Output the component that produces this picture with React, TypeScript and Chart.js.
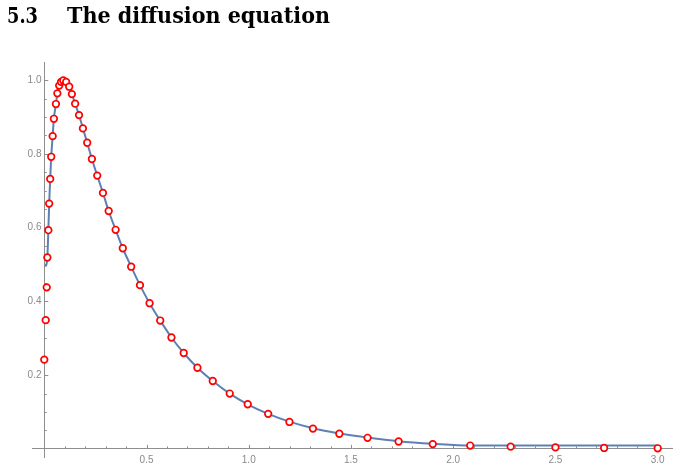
import React, { useEffect, useRef } from "react";
import { Chart, registerables } from "chart.js";

Chart.register(...registerables);

// Numerical solution samples (red circles)
const pointX = [
  0.0, 0.007, 0.012, 0.015, 0.02, 0.024, 0.029, 0.034, 0.041, 0.047,
  0.057, 0.064, 0.073, 0.082, 0.093, 0.107, 0.122, 0.135, 0.151, 0.17,
  0.189, 0.21, 0.233, 0.259, 0.287, 0.315, 0.349, 0.384, 0.425, 0.468,
  0.515, 0.567, 0.622, 0.682, 0.749, 0.824, 0.907, 0.995, 1.095, 1.199,
  1.314, 1.443, 1.581, 1.733, 1.9, 2.083, 2.281, 2.5, 2.738, 3.0,
];
const pointY = [
  0.242, 0.349, 0.438, 0.519, 0.593, 0.665, 0.732, 0.792, 0.848, 0.895,
  0.935, 0.964, 0.985, 0.995, 0.999, 0.995, 0.982, 0.962, 0.936, 0.905,
  0.869, 0.83, 0.786, 0.741, 0.694, 0.645, 0.594, 0.544, 0.494, 0.444,
  0.395, 0.348, 0.302, 0.26, 0.22, 0.184, 0.15, 0.121, 0.095, 0.073,
  0.055, 0.041, 0.03, 0.02, 0.013, 0.009, 0.006, 0.004, 0.0025, 0.0016,
];

// Continuous solution (blue line)
const lineX = [
  0.007, 0.015, 0.02, 0.024, 0.029, 0.034, 0.041, 0.047, 0.057, 0.064,
  0.073, 0.082, 0.093, 0.107, 0.122, 0.135, 0.151, 0.17, 0.189, 0.21,
  0.233, 0.259, 0.287, 0.315, 0.349, 0.384, 0.425, 0.468, 0.515, 0.567,
  0.622, 0.682, 0.749, 0.824, 0.907, 0.995, 1.095, 1.199, 1.314, 1.443,
  1.581, 1.733, 1.9, 2.083, 2.281, 2.5, 2.738, 3.0,
];
const lineY = [
  0.494, 0.519, 0.593, 0.665, 0.732, 0.792, 0.848, 0.895, 0.935, 0.964,
  0.985, 0.995, 0.999, 0.995, 0.982, 0.962, 0.936, 0.905, 0.869, 0.83,
  0.786, 0.741, 0.694, 0.645, 0.594, 0.544, 0.494, 0.444, 0.395, 0.348,
  0.302, 0.26, 0.22, 0.184, 0.15, 0.121, 0.095, 0.074, 0.056, 0.042,
  0.031, 0.021, 0.014, 0.009, 0.009, 0.009, 0.009, 0.009,
];

const xMajorTicks = [0.5, 1.0, 1.5, 2.0, 2.5, 3.0];
const yMajorTicks = [0.2, 0.4, 0.6, 0.8, 1.0];
const xMinorTicks = [
  0.1, 0.2, 0.3, 0.4, 0.6, 0.7, 0.8, 0.9, 1.1, 1.2, 1.3, 1.4, 1.6, 1.7,
  1.8, 1.9, 2.1, 2.2, 2.3, 2.4, 2.6, 2.7, 2.8, 2.9,
];
const yMinorTicks = [
  0.05, 0.1, 0.15, 0.25, 0.3, 0.35, 0.45, 0.5, 0.55, 0.65, 0.7, 0.75,
  0.85, 0.9, 0.95,
];

const AXIS_COLOR = "#8e8e8e";
const LABEL_COLOR = "#8a8a8a";
const LINE_COLOR = "#5e81b5";
const POINT_COLOR = "#ff0000";

const innerTicks = {
  id: "innerTicks",
  beforeDatasetsDraw(chart: any) {
    const { ctx } = chart;
    const xs = chart.scales.x;
    const ys = chart.scales.y;
    const x0 = xs.getPixelForValue(0);
    const y0 = ys.getPixelForValue(0);
    ctx.save();
    ctx.strokeStyle = AXIS_COLOR;
    ctx.lineWidth = 1;
    ctx.beginPath();
    const addX = (v: number, len: number) => {
      const px = Math.round(xs.getPixelForValue(v)) + 0.5;
      ctx.moveTo(px, y0);
      ctx.lineTo(px, y0 - len);
    };
    const addY = (v: number, len: number) => {
      const py = Math.round(ys.getPixelForValue(v)) + 0.5;
      ctx.moveTo(x0, py);
      ctx.lineTo(x0 + len, py);
    };
    xMajorTicks.forEach((v) => addX(v, 4));
    xMinorTicks.forEach((v) => addX(v, 2.5));
    yMajorTicks.forEach((v) => addY(v, 4));
    yMinorTicks.forEach((v) => addY(v, 2.5));
    ctx.stroke();
    ctx.restore();
  },
};

export default function App() {
  const canvasRef = useRef<HTMLCanvasElement | null>(null);
  const numRef = useRef<HTMLSpanElement | null>(null);
  const textRef = useRef<HTMLSpanElement | null>(null);

  useEffect(() => {
    const fit = (el: HTMLSpanElement | null, target: number) => {
      if (!el) return;
      el.style.transform = "none";
      const w = el.getBoundingClientRect().width;
      if (w > 0) el.style.transform = `scaleX(${target / w})`;
    };
    fit(numRef.current, 31);
    fit(textRef.current, 263);

    const canvas = canvasRef.current;
    if (!canvas) return;
    const points = pointX.map((x, i) => ({ x, y: pointY[i] }));
    const curve = lineX.map((x, i) => ({ x, y: lineY[i] }));
    const font = { family: "'Liberation Sans', Arial, sans-serif", size: 10 };

    const chart = new Chart(canvas, {
      type: "scatter",
      data: {
        datasets: [
          {
            label: "samples",
            data: points,
            showLine: false,
            pointRadius: 3.3,
            pointBorderWidth: 1.7,
            pointBorderColor: POINT_COLOR,
            pointBackgroundColor: "#ffffff",
          },
          {
            label: "solution",
            data: curve,
            showLine: true,
            borderColor: LINE_COLOR,
            borderWidth: 2,
            pointRadius: 0,
            cubicInterpolationMode: "monotone",
            fill: false,
          },
        ],
      },
      options: {
        animation: false,
        responsive: false,
        maintainAspectRatio: false,
        layout: { padding: { left: 32, right: 6, top: 62, bottom: 11 } },
        plugins: {
          legend: { display: false },
          tooltip: { enabled: false },
          title: { display: false },
        },
        scales: {
          x: {
            type: "linear",
            min: -0.06,
            max: 3.07,
            position: { y: 0 } as any,
            grid: { display: false, drawTicks: false },
            border: { display: true, color: AXIS_COLOR, width: 1 },
            ticks: {
              color: LABEL_COLOR,
              font,
              padding: 5,
              maxRotation: 0,
              callback: (v: any) => Number(v).toFixed(1),
            },
            afterBuildTicks: (s: any) => {
              s.ticks = xMajorTicks.map((value) => ({ value }));
            },
          },
          y: {
            type: "linear",
            min: -0.022,
            max: 1.049,
            position: { x: 0 } as any,
            grid: { display: false, drawTicks: false },
            border: { display: true, color: AXIS_COLOR, width: 1 },
            ticks: {
              color: LABEL_COLOR,
              font,
              padding: 4,
              // trailing space keeps the label clear of the axis line
              callback: (v: any) => Number(v).toFixed(1) + " ",
            },
            afterBuildTicks: (s: any) => {
              s.ticks = yMajorTicks.map((value) => ({ value }));
            },
          },
        },
      },
      plugins: [innerTicks],
    });
    return () => chart.destroy();
  }, []);

  const titleStyle: React.CSSProperties = {
    position: "absolute",
    top: 4,
    fontFamily: "'DejaVu Serif', 'Liberation Serif', serif",
    fontWeight: "bold",
    fontSize: 22,
    lineHeight: "23px",
    whiteSpace: "nowrap",
    transformOrigin: "0 0",
    color: "#000",
  };

  return (
    <div
      style={{
        position: "absolute",
        left: 0,
        top: 0,
        width: 678,
        height: 468,
        background: "#fff",
        overflow: "hidden",
      }}
    >
      <canvas
        ref={canvasRef}
        width={678}
        height={468}
        style={{ position: "absolute", left: 0, top: 0, width: 678, height: 468 }}
      />
      <span ref={numRef} style={{ ...titleStyle, left: 7 }}>
        5.3
      </span>
      <span ref={textRef} style={{ ...titleStyle, left: 67 }}>
        The diffusion equation
      </span>
    </div>
  );
}
